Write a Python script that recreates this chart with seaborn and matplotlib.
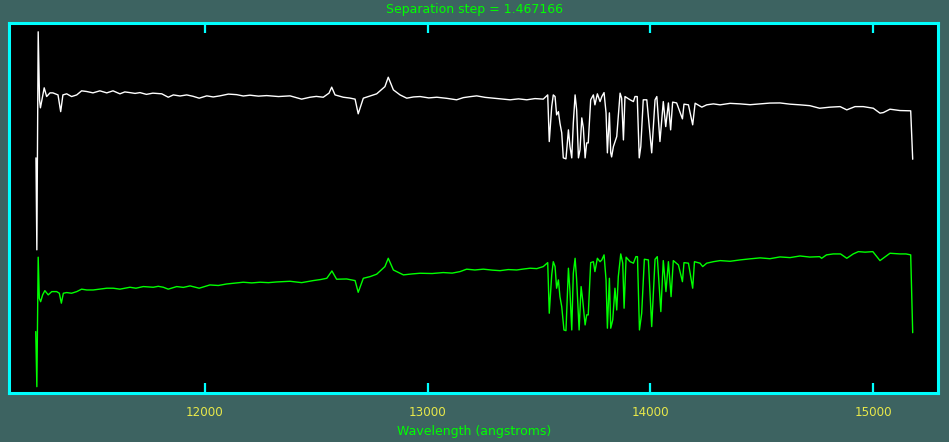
import matplotlib
matplotlib.use("Agg")
import matplotlib.pyplot as plt
import seaborn as sns
import pandas as pd
from matplotlib import font_manager

# ---------------- data ----------------
separation_step = 1.467166

white_wave = [11241, 11245, 11251, 11257, 11261, 11278, 11289, 11304, 11317, 11340,
              11352, 11362, 11379, 11401, 11424, 11446, 11469, 11497, 11528, 11559,
              11587, 11618, 11640, 11663, 11686, 11708, 11737, 11766, 11806, 11835,
              11858, 11888, 11918, 11946, 11974, 12008, 12037, 12067, 12105, 12142,
              12172, 12202, 12240, 12277, 12330, 12382, 12434, 12472, 12500, 12531,
              12557, 12569, 12584, 12621, 12650, 12674, 12688, 12711, 12741, 12771,
              12808, 12823, 12846, 12876, 12906, 12936, 12966, 13005, 13041, 13085,
              13130, 13160, 13190, 13220, 13258, 13295, 13332, 13370, 13408, 13445,
              13482, 13519, 13539, 13546, 13557, 13564, 13572, 13579, 13587,
              13594, 13602, 13609, 13621, 13632, 13639, 13647, 13654, 13662, 13669,
              13677, 13684, 13692, 13699, 13707, 13714, 13721, 13732, 13744, 13751,
              13762, 13774, 13782, 13792, 13801, 13807, 13816, 13822, 13826, 13834,
              13849, 13856, 13864, 13871, 13879, 13886, 13909, 13924, 13931, 13941,
              13950, 13957, 13968, 13984, 14006, 14021, 14029, 14043, 14058, 14069,
              14081, 14091, 14100, 14118, 14144, 14151, 14171, 14190, 14201, 14231,
              14253, 14283, 14313, 14358, 14403, 14448, 14493, 14537, 14582, 14627,
              14672, 14716, 14760, 14807, 14852, 14882, 14919, 14956, 15001, 15031,
              15046, 15076, 15121, 15169, 15178]
white_flux = [0.261, -0.415, 1.188, 0.688, 0.629, 0.776, 0.712, 0.739, 0.739, 0.724,
              0.601, 0.724, 0.732, 0.712, 0.724, 0.754, 0.749, 0.739, 0.754, 0.739,
              0.754, 0.732, 0.746, 0.741, 0.735, 0.741, 0.728, 0.737, 0.732, 0.707,
              0.724, 0.716, 0.724, 0.714, 0.700, 0.717, 0.709, 0.717, 0.730, 0.726,
              0.716, 0.722, 0.715, 0.719, 0.712, 0.717, 0.693, 0.707, 0.713, 0.707,
              0.737, 0.781, 0.724, 0.707, 0.701, 0.693, 0.585, 0.700, 0.716, 0.732,
              0.785, 0.854, 0.761, 0.724, 0.700, 0.709, 0.712, 0.702, 0.707, 0.699,
              0.688, 0.704, 0.711, 0.717, 0.706, 0.700, 0.694, 0.688, 0.695, 0.688,
              0.697, 0.693, 0.724, 0.381, 0.638, 0.724, 0.712, 0.577, 0.601,
              0.516, 0.445, 0.261, 0.254, 0.467, 0.344, 0.261, 0.518, 0.724, 0.614,
              0.261, 0.320, 0.555, 0.482, 0.261, 0.371, 0.371, 0.688, 0.724, 0.651,
              0.732, 0.675, 0.712, 0.741, 0.592, 0.298, 0.592, 0.298, 0.268, 0.344,
              0.418, 0.565, 0.737, 0.700, 0.393, 0.712, 0.688, 0.675, 0.712, 0.712,
              0.261, 0.344, 0.688, 0.688, 0.298, 0.688, 0.712, 0.381, 0.675, 0.491,
              0.665, 0.467, 0.671, 0.665, 0.548, 0.656, 0.651, 0.504, 0.663, 0.634,
              0.651, 0.658, 0.651, 0.662, 0.658, 0.652, 0.658, 0.664, 0.665, 0.656,
              0.651, 0.645, 0.626, 0.634, 0.638, 0.614, 0.638, 0.638, 0.626, 0.590,
              0.594, 0.619, 0.609, 0.607, 0.251]

green_wave = [11240, 11245, 11251, 11256, 11262, 11271, 11281, 11296, 11312, 11334,
              11346, 11355, 11364, 11379, 11401, 11424, 11446, 11469, 11498, 11528,
              11559, 11588, 11618, 11663, 11690, 11723, 11768, 11790, 11813, 11835,
              11873, 11903, 11933, 11974, 12022, 12060, 12097, 12135, 12172, 12210,
              12247, 12285, 12322, 12382, 12434, 12486, 12520, 12547, 12570, 12591,
              12636, 12674, 12688, 12711, 12741, 12771, 12808, 12823, 12846, 12891,
              12930, 12966, 13020, 13070, 13110, 13145, 13175, 13212, 13250, 13290,
              13325, 13362, 13400, 13430, 13460, 13490, 13519, 13539, 13546, 13557,
              13564, 13572,
              13579, 13587, 13594, 13602, 13612, 13621, 13632, 13639, 13647, 13654,
              13662, 13669, 13680, 13689, 13696, 13707, 13714, 13721, 13732, 13744,
              13751, 13762, 13774, 13782, 13792, 13801, 13807, 13816, 13822, 13831,
              13841, 13849, 13856, 13867, 13876, 13882, 13891, 13909, 13924, 13935,
              13942, 13951, 13961, 13973, 13991, 14006, 14021, 14031, 14047, 14058,
              14070, 14081, 14093, 14103, 14126, 14144, 14151, 14171, 14190, 14198,
              14223, 14235, 14253, 14283, 14313, 14358, 14403, 14448, 14493, 14537,
              14582, 14627, 14672, 14716, 14760,
              14769, 14791, 14821, 14854, 14882, 14911, 14934, 14964, 14999, 15031,
              15076, 15121, 15148, 15169, 15178]
green_flux = [0.451, 0.046, 0.998, 0.696, 0.671, 0.721, 0.752, 0.721, 0.745, 0.745,
              0.733, 0.660, 0.733, 0.738, 0.733, 0.745, 0.763, 0.757, 0.757, 0.763,
              0.770, 0.770, 0.763, 0.777, 0.770, 0.782, 0.777, 0.784, 0.777, 0.763,
              0.782, 0.776, 0.787, 0.770, 0.794, 0.790, 0.801, 0.808, 0.814, 0.809,
              0.814, 0.811, 0.816, 0.821, 0.811, 0.826, 0.834, 0.843, 0.897, 0.836,
              0.838, 0.826, 0.740, 0.843, 0.855, 0.873, 0.929, 0.990, 0.904, 0.868,
              0.875, 0.880, 0.878, 0.885, 0.881, 0.892, 0.910, 0.904, 0.910, 0.903,
              0.899, 0.907, 0.904, 0.911, 0.917, 0.914, 0.929, 0.958, 0.586, 0.868,
              0.965, 0.929,
              0.770, 0.831, 0.708, 0.634, 0.463, 0.458, 0.917, 0.745, 0.463, 0.880,
              0.990, 0.831, 0.463, 0.782, 0.684, 0.500, 0.574, 0.574, 0.958, 0.965,
              0.892, 0.990, 0.965, 0.978, 1.015, 0.831, 0.476, 0.843, 0.476, 0.537,
              0.770, 0.610, 0.855, 1.022, 0.954, 0.623, 0.998, 0.965, 0.954, 1.002,
              1.002, 0.463, 0.586, 0.983, 0.978, 0.488, 0.983, 1.002, 0.598, 0.973,
              0.745, 0.965, 0.708, 0.973, 0.941, 0.818, 0.958, 0.954, 0.770, 0.965,
              0.954, 0.929, 0.954, 0.965, 0.973, 0.968, 0.978, 0.986, 0.993, 0.987,
              1.000, 0.995, 1.007, 0.999, 1.002,
              0.990, 1.015, 1.022, 1.022, 0.990, 1.022, 1.039, 1.035, 1.039, 0.973,
              1.027, 1.022, 1.022, 1.015, 0.443]

x_ticks = [12000, 13000, 14000, 15000]
x_limits = (11120, 15292)
y_limits = (0.0, 2.72)

title_text = "Separation step = 1.467166"
xlabel_text = "Wavelength (angstroms)"

# ---------------- style ----------------
BG = "#3d6361"
CYAN = "#00ffff"
GREEN = "#00ff00"
YELLOW = "#e8e84a"

sns.set_theme(style="dark")
plt.rcParams["font.family"] = ["DejaVu Sans"]

title_fp = font_manager.FontProperties(family="DejaVu Sans", size=9.0)
tick_fp = font_manager.FontProperties(family="DejaVu Sans", size=8.6)

df_white = pd.DataFrame({"wave": white_wave,
                         "flux": [v + separation_step for v in white_flux]})
df_green = pd.DataFrame({"wave": green_wave, "flux": green_flux})

fig = plt.figure(figsize=(9.49, 4.42), dpi=100, facecolor=BG)
ax = fig.add_axes([0.0095, 0.111, 0.979, 0.837])
ax.set_facecolor("black")

sns.lineplot(data=df_white, x="wave", y="flux", ax=ax, color="white",
             linewidth=1.0, estimator=None, sort=False)
sns.lineplot(data=df_green, x="wave", y="flux", ax=ax, color=GREEN,
             linewidth=1.0, estimator=None, sort=False)

ax.set_xlim(*x_limits)
ax.set_ylim(*y_limits)
ax.set_xticks(x_ticks)
ax.set_xticklabels([str(t) for t in x_ticks])
for lab in ax.get_xticklabels():
    lab.set_fontproperties(tick_fp)
ax.set_yticks([])
ax.grid(False)
ax.set_xlabel("")
ax.set_ylabel("")

for s in ax.spines.values():
    s.set_visible(True)
    s.set_color(CYAN)
    s.set_linewidth(2.2)

ax.tick_params(axis="x", which="both", direction="in", top=True, bottom=True,
               length=7, width=1.6, color=CYAN, labelcolor=YELLOW, pad=9.5)

fig.text(0.5, 0.993, title_text, ha="center", va="top", color=GREEN,
         fontproperties=title_fp)
fig.text(0.5, 0.010, xlabel_text, ha="center", va="bottom", color=GREEN,
         fontproperties=title_fp)

fig.savefig("out.png", dpi=100, facecolor=BG)
